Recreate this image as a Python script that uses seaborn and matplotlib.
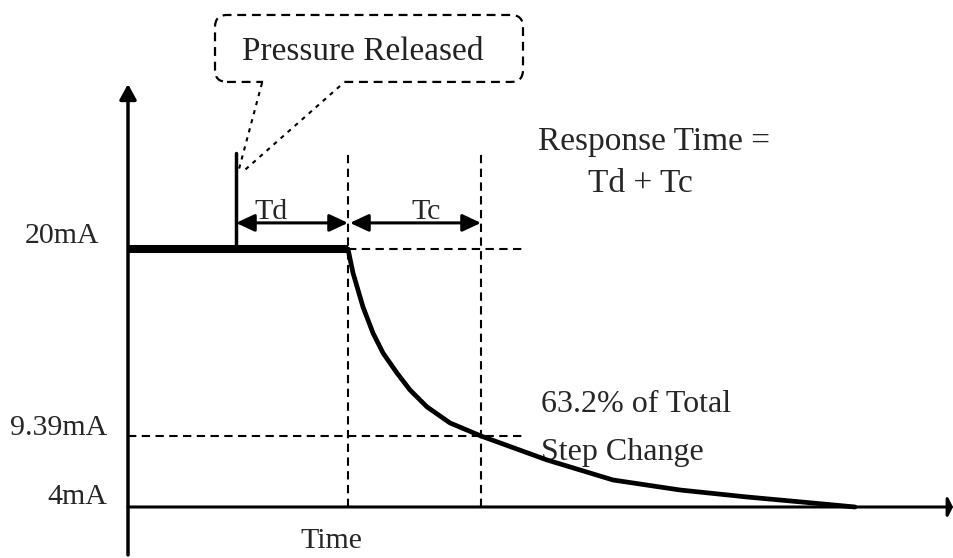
import numpy as np
import pandas as pd
import matplotlib
matplotlib.use("Agg")
import matplotlib.pyplot as plt
from matplotlib.patches import FancyBboxPatch
import seaborn as sns

# ---------------- data ----------------
level_labels = ["20mA", "9.39mA", "4mA"]
level_values = [20.0, 9.39, 4.0]

t_release = 1.08      # pressure released
t_decay_start = 2.20  # end of Td, output starts to fall
t_tc_end = 3.53       # end of Tc (63.2 % point)

step_time = [0.0, 2.20]
step_current = [20.0, 20.0]

curve_time = [2.20, 2.25, 2.35, 2.45, 2.55, 2.69, 2.82, 2.99, 3.22, 3.53,
              4.19, 4.85, 5.52, 6.19, 6.85, 7.27]
curve_current = [20.0, 18.64, 16.71, 15.23, 14.10, 12.96, 12.00, 11.04, 10.13, 9.39,
                 7.57, 6.05, 5.29, 4.76, 4.30, 4.0]

# schematic (non-uniform) vertical scale of the drawing
scale_mA = [-40.0, 4.0, 9.39, 20.0, 80.0]
scale_pos = [-579.5, 0.0, 71.0, 258.0, 1315.2]


def fwd(v):
    return np.interp(v, scale_mA, scale_pos)


def inv(v):
    return np.interp(v, scale_pos, scale_mA)


# ---------------- style ----------------
sns.set_style("white")
plt.rcParams["font.family"] = ["Liberation Serif", "DejaVu Serif"]

fig = plt.figure(figsize=(9.54, 5.58), dpi=100)
ax = fig.add_axes([0, 0, 1, 1])

step_df = pd.DataFrame({"time": step_time, "current": step_current})
curve_df = pd.DataFrame({"time": curve_time, "current": curve_current})

sns.lineplot(data=step_df, x="time", y="current", ax=ax, color="black",
             lw=5.8, solid_capstyle="butt", zorder=5)
sns.lineplot(data=curve_df, x="time", y="current", ax=ax, color="black",
             lw=3.4, solid_capstyle="round", solid_joinstyle="round",
             zorder=5, sort=False)

ax.set_yscale("function", functions=(fwd, inv))
ax.set_xlim(-1.28, 8.26)
ax.set_ylim(0.127, 34.13)
ax.axis("off")

k = "black"
dash = (0, (4, 2.6))

# axes with arrows
ax.annotate("", xy=(0, 29.36), xytext=(0, 0.36),
            arrowprops=dict(arrowstyle="-|>,head_length=0.4,head_width=0.22",
                            lw=2.5, color=k, mutation_scale=23, shrinkA=0, shrinkB=0))
ax.annotate("", xy=(8.25, 4.0), xytext=(0, 4.0),
            arrowprops=dict(arrowstyle="-|>,head_length=0.2,head_width=0.4",
                            lw=2.2, color=k, mutation_scale=15, shrinkA=0, shrinkB=0))

# pressure release marker
ax.plot([t_release, t_release], [20.0, 25.45], color=k, lw=2.5)

# dashed guides
ax.plot([t_decay_start, t_decay_start], [4.0, 25.45], color=k, lw=1.5, ls=dash)
ax.plot([t_tc_end, t_tc_end], [4.0, 25.45], color=k, lw=1.5, ls=dash)
ax.plot([t_decay_start, 3.94], [20.0, 20.0], color=k, lw=1.5, ls=dash)
ax.plot([0, 3.97], [9.39, 9.39], color=k, lw=1.5, ls=dash)

# Td / Tc arrows
arr = dict(arrowstyle="<|-|>,head_length=0.75,head_width=0.35", lw=2.2,
           color=k, mutation_scale=15, shrinkA=0, shrinkB=0)
ax.annotate("", xy=(t_decay_start, 21.48), xytext=(t_release, 21.48), arrowprops=arr)
ax.annotate("", xy=(t_tc_end, 21.48), xytext=(t_decay_start + 0.02, 21.48), arrowprops=arr)

ax.text(1.43, 21.7, "Td", fontsize=21.5, ha="center", va="baseline")
ax.text(2.98, 21.7, "Tc", fontsize=21.5, ha="center", va="baseline")

# level labels
label_x = [-0.29, -0.21, -0.21]
label_y = [20.34, 9.45, 4.23]
for lx, ly, lab in zip(label_x, label_y, level_labels):
    ax.text(lx, ly, lab, fontsize=21.5, ha="right", va="baseline")

ax.text(2.03, 0.85, "Time", fontsize=21.5, ha="center", va="baseline")

ax.text(5.26, 25.62, "Response Time =", fontsize=24, ha="center", va="baseline")
ax.text(5.12, 23.23, "Td + Tc", fontsize=24, ha="center", va="baseline")

ax.text(4.13, 10.75, "63.2% of Total", fontsize=23, ha="left", va="baseline")
ax.text(4.13, 7.57, "Step Change", fontsize=23, ha="left", va="baseline")

# callout box
box = FancyBboxPatch((0.87, 29.48), 3.08, 3.80,
                     boxstyle="round,pad=0,rounding_size=0.12",
                     mutation_aspect=5.67, transform=ax.transData,
                     fc="white", ec=k, lw=1.6, ls=(0, (4, 2.6)), zorder=3)
ax.add_patch(box)
ax.plot([1.37, 2.09], [29.48, 29.48], color="white", lw=3, zorder=4)
ax.plot([1.34, 1.10], [29.42, 24.32], color=k, lw=1.5, ls=(0, (2, 2.5)), zorder=4)
ax.plot([2.12, 1.17], [29.25, 24.49], color=k, lw=1.5, ls=(0, (2, 2.5)), zorder=4)
ax.text(2.35, 30.73, "Pressure Released", fontsize=24, ha="center", va="baseline",
        color="#222222", zorder=6)

fig.savefig("out.png", dpi=100)
